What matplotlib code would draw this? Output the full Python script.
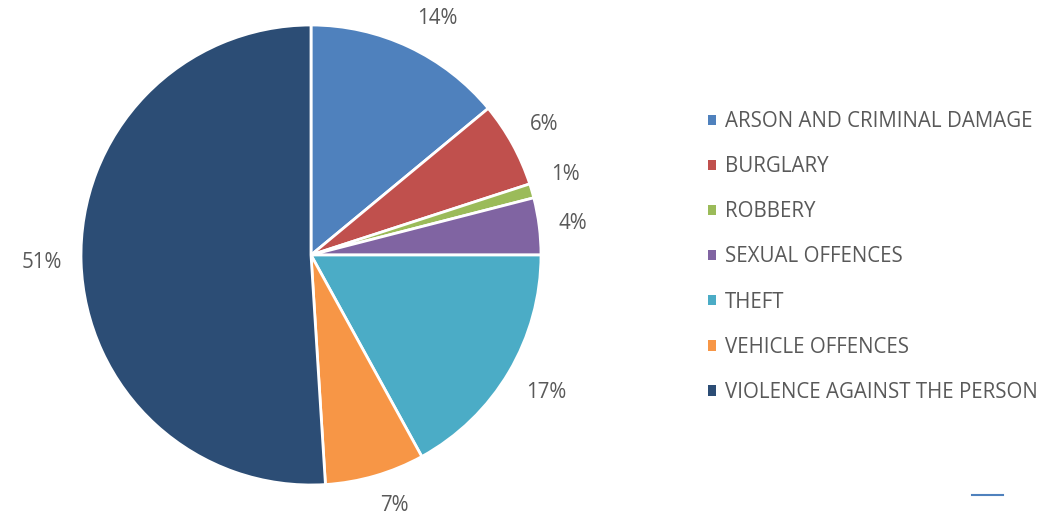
import matplotlib
matplotlib.use("Agg")
import numpy as np
import matplotlib.pyplot as plt
from matplotlib.patches import Patch
from matplotlib.lines import Line2D

categories = ["ARSON AND CRIMINAL DAMAGE", "BURGLARY", "ROBBERY", "SEXUAL OFFENCES",
              "THEFT", "VEHICLE OFFENCES", "VIOLENCE AGAINST THE PERSON"]
shares = [14, 6, 1, 4, 17, 7, 51]
colors = ["#4F81BD", "#C0504D", "#9BBB59", "#8064A2", "#4BACC6", "#F79646", "#2C4D75"]

plt.rcParams['font.family'] = ['Open Sans', 'DejaVu Sans']
txt = "#595959"
fs = 14.8

fig = plt.figure(figsize=(10.44, 5.15), dpi=100)
# pie centred at (311, 255) px, radius 230 px
ax = fig.add_axes([(311 - 230) / 1044, 1 - (255 + 230) / 515, 460 / 1044, 460 / 515])
wedges, texts, autotexts = ax.pie(shares, colors=colors, startangle=90, counterclock=False,
                                  autopct='%1.0f%%', pctdistance=1.1,
                                  wedgeprops=dict(edgecolor='white', linewidth=2),
                                  textprops=dict(color=txt, fontsize=fs))
ax.set_xlim(-1, 1)
ax.set_ylim(-1, 1)
ax.set_aspect('equal')

# place labels just outside the rim, anchored on the side facing the pie
for w, t in zip(wedges, autotexts):
    a = np.deg2rad((w.theta1 + w.theta2) / 2)
    c, s = np.cos(a), np.sin(a)
    t.set_position((1.085 * c, 1.085 * s))
    t.set_ha('left' if c > 0.2 else 'right' if c < -0.2 else 'center')
    t.set_va('bottom' if s > 0.2 else 'top' if s < -0.2 else 'center')

handles = [Patch(facecolor=c, edgecolor='none') for c in colors]
fig.legend(handles, categories, loc='center left', bbox_to_anchor=(689 / 1044, 1 - 257 / 515),
           frameon=False, fontsize=fs, labelcolor=txt, labelspacing=1.17,
           handlelength=0.41, handleheight=0.41, handletextpad=0.43)

fig.add_artist(Line2D([972 / 1044, 1003 / 1044], [1 - 495 / 515] * 2, color="#4F81BD", lw=1.5))

fig.savefig("out.png", dpi=100)
